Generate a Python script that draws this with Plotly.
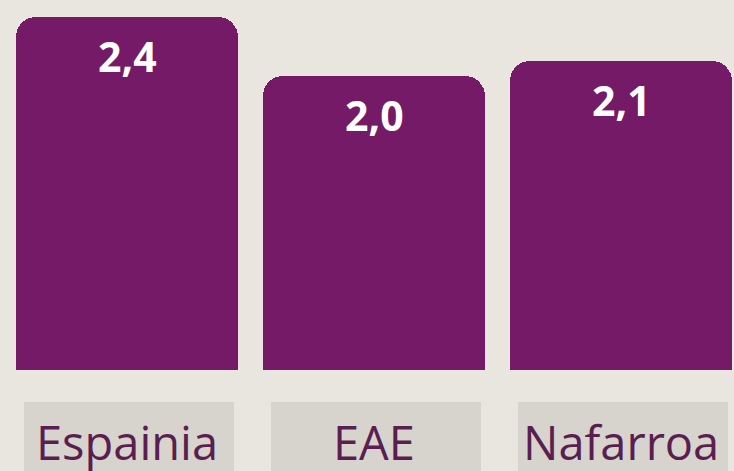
import plotly.graph_objects as go

categories = ["Espainia", "EAE", "Nafarroa"]
values = [2.4, 2.0, 2.1]
value_labels = ["2,4", "2,0", "2,1"]

BG = "#e9e6df"
BAR = "#751a67"
BOX = "#d7d4cd"
LABEL = "#5b1e50"

W, H = 734, 471
px_per_unit = 147.0
zero_px = 370.0
cat_spacing = 247.0
first_center = 127.0

x_range = [-first_center / cat_spacing, (W - first_center) / cat_spacing]
y_range = [-(H - zero_px) / px_per_unit, zero_px / px_per_unit]

idx = list(range(len(categories)))

fig = go.Figure()
fig.add_trace(go.Bar(
    x=idx, y=values,
    width=222 / cat_spacing,
    marker=dict(color=BAR, line=dict(width=0), cornerradius=20),
    hoverinfo="skip",
))

shapes = []
annotations = []
box_half = 105 / cat_spacing
box_top = -(402 - zero_px) / px_per_unit
for i, (cat, v, lab) in enumerate(zip(categories, values, value_labels)):
    shapes.append(dict(type="rect", xref="x", yref="y",
                       x0=i - box_half + 2 / cat_spacing, x1=i + box_half + 2 / cat_spacing,
                       y0=box_top, y1=y_range[0] - 1,
                       fillcolor=BOX, line=dict(width=0), layer="below"))
    annotations.append(dict(x=i, y=box_top, xref="x", yref="y",
                            text=cat, showarrow=False,
                            xanchor="center", yanchor="top", yshift=-6,
                            font=dict(family="Open Sans", size=47, color=LABEL)))
    annotations.append(dict(x=i, y=v, xref="x", yref="y",
                            text="<b>%s</b>" % lab, showarrow=False,
                            xanchor="center", yanchor="top", yshift=-9,
                            font=dict(family="Open Sans", size=41, color="white")))

fig.update_layout(
    width=W, height=H,
    margin=dict(l=0, r=0, t=0, b=0, pad=0),
    paper_bgcolor=BG, plot_bgcolor=BG,
    showlegend=False,
    bargap=0,
    xaxis=dict(range=x_range, visible=False, fixedrange=True),
    yaxis=dict(range=y_range, visible=False, fixedrange=True),
    shapes=shapes,
    annotations=annotations,
)

fig.write_html(
    "out.html",
    config={"displayModeBar": False},
    post_script="document.body.style.margin='0';document.body.style.overflow='hidden';document.body.style.background='%s';" % BG,
)
